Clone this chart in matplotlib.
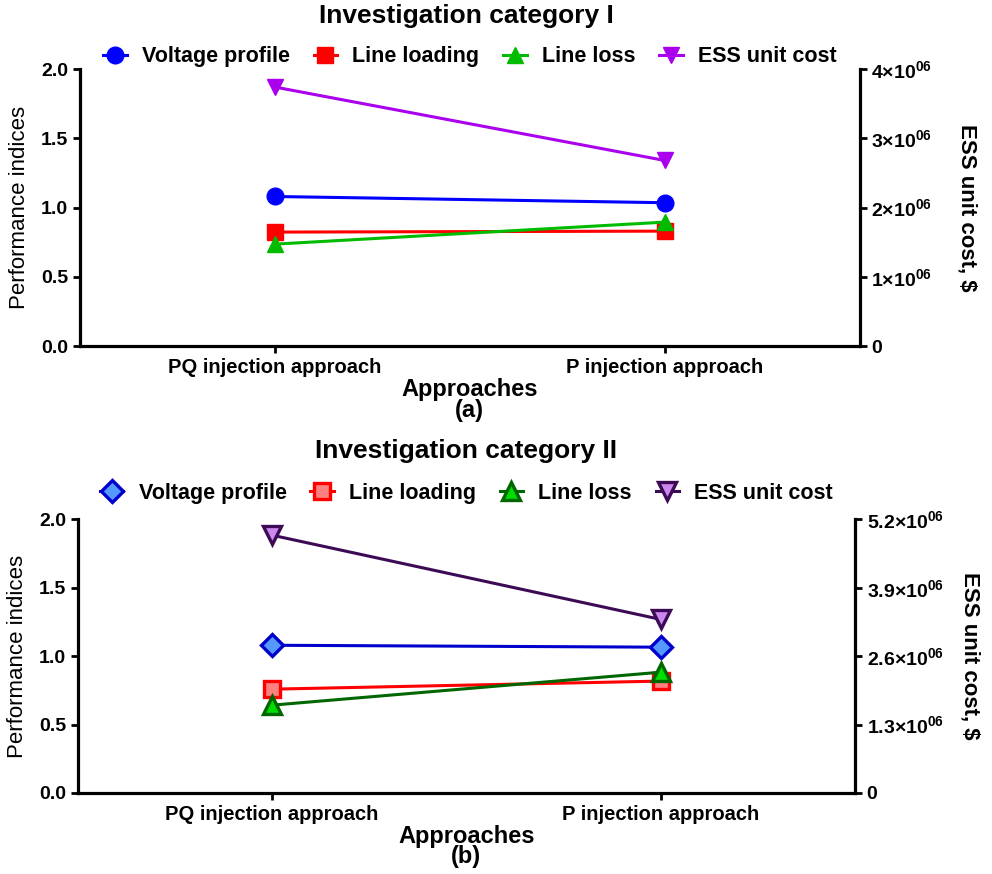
import matplotlib
matplotlib.use("Agg")
import matplotlib.pyplot as plt
from matplotlib.ticker import FuncFormatter

plt.rcParams['font.family'] = ['Liberation Sans', 'DejaVu Sans']
plt.rcParams['mathtext.default'] = 'regular'

approaches = ['PQ injection approach', 'P injection approach']
series = ['Voltage profile', 'Line loading', 'Line loss', 'ESS unit cost']

# investigation category I
voltage_a = [1.08, 1.035]
loading_a = [0.823, 0.83]
loss_a = [0.736, 0.895]
cost_a = [3.74e6, 2.68e6]

# investigation category II
voltage_b = [1.08, 1.066]
loading_b = [0.759, 0.818]
loss_b = [0.642, 0.883]
cost_b = [4.9e6, 3.3e6]

left_ticks = [0.0, 0.5, 1.0, 1.5, 2.0]
right_ticks_a = [0, 1e6, 2e6, 3e6, 4e6]
right_ticks_b = [0, 1.3e6, 2.6e6, 3.9e6, 5.2e6]


def sci_fmt(v, pos):
    if v == 0:
        return '0'
    return ('%g' % (v / 1e6)) + r'$\times$10$^{06}$'


def style_axes(ax, ax2):
    for a in (ax, ax2):
        a.spines['top'].set_visible(False)
        for sp in ('left', 'right', 'bottom'):
            a.spines[sp].set_linewidth(2.3)
        a.tick_params(width=2.0, length=5)
    ax.spines['right'].set_visible(False)
    ax2.spines['left'].set_visible(False)
    ax2.spines['bottom'].set_visible(False)


def panel(rect, title, title_y, tag, data, ess, rticks, styles, leg_y, rlab_x):
    ax = fig.add_axes(rect)
    ax2 = ax.twinx()
    x = range(len(approaches))
    handles = []
    for vals, st, name in zip(data, styles[:3], series[:3]):
        h, = ax.plot(x, vals, label=name, **st)
        handles.append(h)
    h, = ax2.plot(x, ess, label=series[3], **styles[3])
    handles.append(h)

    ax.set_xlim(-0.5, 1.5)
    ax.set_ylim(0, 2.0)
    ax.set_yticks(left_ticks)
    ax.set_yticklabels(['%.1f' % t for t in left_ticks], fontweight='bold', fontsize=14)
    ax.set_xticks(list(x))
    ax.set_xticklabels(approaches, fontweight='bold', fontsize=14.5)
    ax2.set_ylim(0, rticks[-1])
    ax2.set_yticks(rticks)
    ax2.yaxis.set_major_formatter(FuncFormatter(sci_fmt))
    ax2.tick_params(axis='y', labelsize=14)
    for lbl in ax2.get_yticklabels():
        lbl.set_fontweight('bold')

    ax.set_ylabel('Performance indices', fontsize=16, va='center')
    ax.yaxis.set_label_coords(-0.078, 0.5)
    ax2.set_ylabel('ESS unit cost, $', fontsize=16, rotation=-90, fontweight='bold',
                   va='center')
    ax2.yaxis.set_label_coords(rlab_x, 0.5)
    ax.set_xlabel('Approaches\n' + tag, fontsize=17, fontweight='bold', linespacing=0.85,
                  labelpad=1)
    fig.text(0.47, title_y, title, fontsize=19, fontweight='bold',
             ha='center', va='center')
    ax.legend(handles=handles, loc='center', bbox_to_anchor=(0.5, leg_y),
              ncol=4, frameon=False, handlelength=1.1, handletextpad=0.7,
              columnspacing=1.1, prop={'weight': 'bold', 'size': 15.5})
    style_axes(ax, ax2)
    return ax, ax2


fig = plt.figure(figsize=(9.92, 8.74), dpi=100)

styles_a = [
    dict(color='#0000ff', marker='o', markersize=12, lw=2.2),
    dict(color='#ff0000', marker='s', markersize=11.5, lw=2.2),
    dict(color='#00bb00', marker='^', markersize=12, lw=2.2),
    dict(color='#aa00ee', marker='v', markersize=12, lw=2.2),
]
styles_b = [
    dict(color='#0000cc', marker='D', markersize=11, lw=2.2, markerfacecolor='#5599ff',
         markeredgewidth=2.4),
    dict(color='#ff0000', marker='s', markersize=11.5, lw=2.2, markerfacecolor='#ff8080',
         markeredgewidth=2.4),
    dict(color='#006600', marker='^', markersize=12.5, lw=2.2, markerfacecolor='#00dd00',
         markeredgewidth=2.4),
    dict(color='#3d0a55', marker='v', markersize=12.5, lw=2.2, markerfacecolor='#cc88ee',
         markeredgewidth=2.4),
]

panel([0.0806, 0.604, 0.786, 0.317], 'Investigation category I', 0.982, '(a)',
      [voltage_a, loading_a, loss_a], cost_a, right_ticks_a, styles_a, 1.045, 1.138)
panel([0.0786, 0.0927, 0.783, 0.313], 'Investigation category II', 0.484, '(b)',
      [voltage_b, loading_b, loss_b], cost_b, right_ticks_b, styles_b, 1.095, 1.148)

fig.savefig('out.png', dpi=100)
